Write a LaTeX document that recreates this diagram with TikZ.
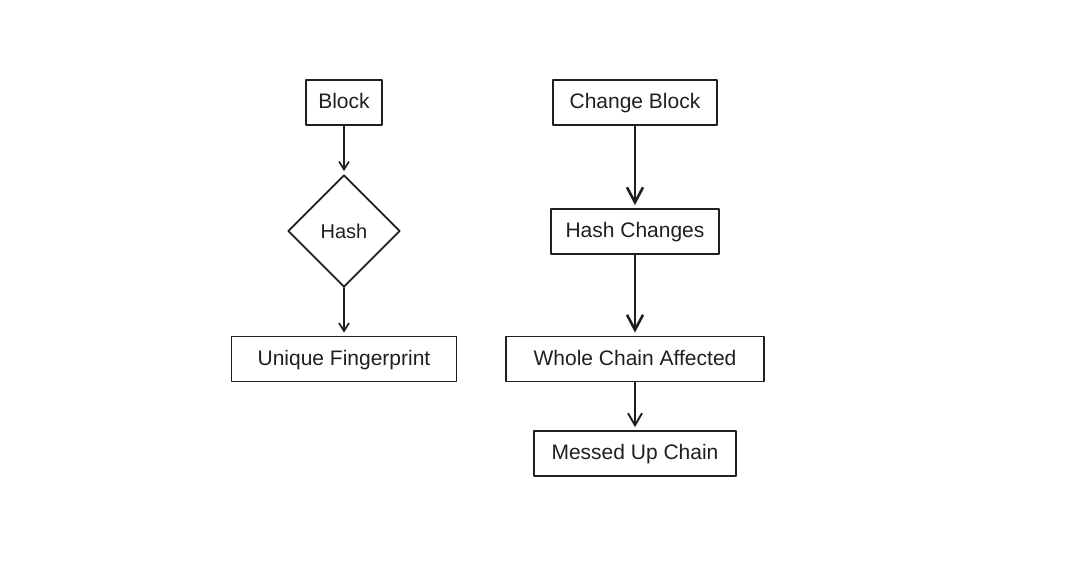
\documentclass[tikz,border=0pt]{standalone}
\usepackage{fontspec}
\setmainfont{Liberation Sans}
\usetikzlibrary{shapes.geometric}
\usetikzlibrary{arrows.meta}

\begin{document}
\begin{tikzpicture}
			[x=1pt,y=-1pt,line join=round,line cap=round,
			%Styles
			box/.style={draw=ink,line width=1.8pt,minimum height=45pt,inner sep=0pt,text=ink,text height=15pt,text depth=3pt,font=\fontsize{21}{24}\selectfont},
			decision/.style={diamond,draw=ink,line width=1.8pt,minimum width=112pt,minimum height=112pt,inner sep=0pt,text=ink,font=\fontsize{20}{24}\selectfont},
			thin flow/.style={-{Straight Barb[length=8pt,width=10pt]},line width=1.7pt,ink,shorten >=3pt},
			thick flow/.style={-{Straight Barb[length=15pt,width=16pt]},line width=2.6pt,ink,shorten >=3pt}
			]
			
			%Colors
			\colorlet{ink}{black!88}
			
			\useasboundingbox (0,0) rectangle (1065,579);
			
			%Left column
			\node[box,minimum width=76pt] (block) at (344,102.5) {Block};
			\node[decision] (hash) at (344,231) {Hash};
			\node[box,minimum width=225pt] (fingerprint) at (344,359) {Unique Fingerprint};
			
			\draw[thin flow] (block) -- (hash);
			\draw[thin flow] (hash) -- (fingerprint);
			
			%Right column
			\node[box,minimum width=164pt] (change) at (635,102.5) {Change Block};
			\node[box,minimum width=168pt] (hashchange) at (635,231.5) {Hash Changes};
			\node[box,minimum width=258pt] (affected) at (635,359) {Whole Chain Affected};
			\node[box,minimum width=202pt] (messed) at (635,453.5) {Messed Up Chain};
			
			\draw[thick flow] (change) -- (hashchange);
			\draw[thick flow] (hashchange) -- (affected);
			\draw[-{Straight Barb[length=12pt,width=14pt]},line width=1.9pt,ink,shorten >=3pt] (affected) -- (messed);
		\end{tikzpicture}
\end{document}
